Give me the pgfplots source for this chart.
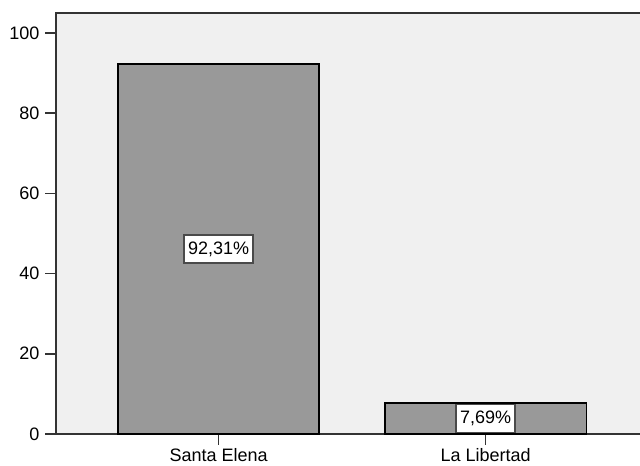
\documentclass[border=0pt]{standalone}
\usepackage{pgfplots}
\pgfplotsset{compat=1.18}
\usepackage{fontspec}
\setmainfont{Liberation Sans}
\definecolor{bgc}{HTML}{F0F0F0}
\definecolor{barc}{HTML}{999999}
\definecolor{axc}{HTML}{333333}
\definecolor{boxc}{HTML}{4A4A4A}
\begin{document}
\begin{tikzpicture}
\begin{axis}[
  at={(0,0)}, anchor=south west,
  scale only axis,
  width=450pt, height=315.75pt,
  xmin=-0.609, xmax=1.638,
  ymin=0, ymax=105,
  axis background/.style={fill=bgc},
  axis line style={axc, line width=1.1pt},
  tick pos=left,
  tick align=outside,
  major tick length=8pt,
  tick style={axc, line width=1.1pt},
  xtick={0,1},
  xticklabels={Santa Elena, La Libertad},
  ytick={0,20,40,60,80,100},
  /pgf/number format/assume math mode=true,
  ticklabel style={font=\fontsize{13.5}{16}\selectfont, text=black},
  yticklabel style={xshift=-1pt},
  xticklabel style={yshift=1pt},
  clip=false,
]
\addplot[
  ybar, bar width=0.753, fill=barc, draw=black, line width=1pt,
  point meta=explicit symbolic,
  visualization depends on=y \as \rawy,
  nodes near coords,
  every node near coord/.append style={
    anchor=center,
    shift={(axis direction cs:0,-\rawy/2)},
    fill=white, draw=boxc, line width=1.1pt,
    inner xsep=3pt, inner ysep=5pt,
    font=\fontsize{13.5}{16}\selectfont, text=black},
] coordinates {
  (0,92.31) [92,31\%]
  (1,7.69) [7,69\%]
};
\end{axis}
\pgfresetboundingbox
\path (-42pt,-24pt) rectangle (438pt,325.5pt);
\end{tikzpicture}
\end{document}
